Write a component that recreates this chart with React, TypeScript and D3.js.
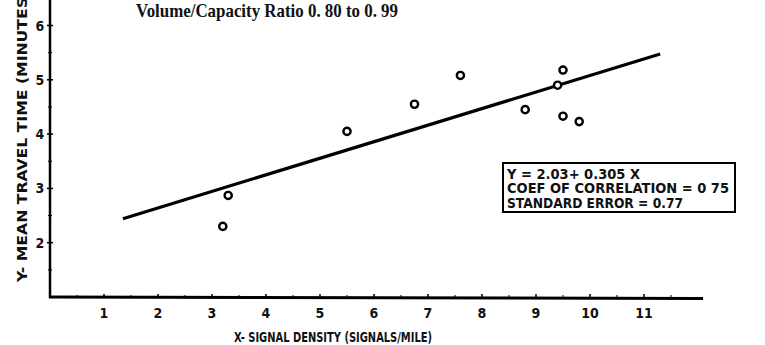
import React from 'react';
import * as d3 from 'd3';

// observed points
const signalDensity = [3.2, 3.3, 5.5, 6.75, 7.6, 8.8, 9.4, 9.5, 9.5, 9.8];
const travelTime = [2.3, 2.87, 4.05, 4.55, 5.08, 4.45, 4.9, 5.18, 4.33, 4.23];

// regression Y = a + bX
const intercept = 2.03;
const slope = 0.305;
const fitRange = [1.35, 11.3];

const xTicks = [1, 2, 3, 4, 5, 6, 7, 8, 9, 10, 11];
const yTicks = [2, 3, 4, 5, 6];
const statLines = ['Y = 2.03+ 0.305 X', 'COEF OF CORRELATION = 0 75', 'STANDARD  ERROR = 0.77'];

const W = 765;
const H = 345;
const labelFont = "'DejaVu Sans Condensed', 'Liberation Sans Narrow', 'DejaVu Sans', sans-serif";

export default function App() {
  const x = d3.scaleLinear().domain([0, 12]).range([50, 698]);
  const y = d3.scaleLinear().domain([1, 6]).range([297, 25.5]);

  const fit = d3.line<number>()
    .x(d => x(d))
    .y(d => y(intercept + slope * d));

  const minorY = d3.range(1.5, 6.5, 1);
  const minorX = d3.range(0.5, 12, 1);

  return (
    <svg width={W} height={H} style={{ position: 'absolute', left: 0, top: 0, background: '#fff' }}>
      {/* title */}
      <text x={136} y={17} textLength={262} lengthAdjust="spacingAndGlyphs"
        style={{ fontFamily: "'Liberation Serif', 'DejaVu Serif', serif", fontSize: 19.5, fontWeight: 'bold' }} fill="#111">
        Volume/Capacity Ratio 0. 80 to 0. 99
      </text>

      {/* axes */}
      <line x1={x(0)} y1={0} x2={x(0)} y2={y(1) + 1} stroke="#000" strokeWidth={2.5} />
      <line x1={x(0) - 1} y1={y(1)} x2={x(12) + 5} y2={y(1) + 1.5} stroke="#000" strokeWidth={3} />

      {yTicks.map(t => (
        <g key={`y-${t}`}>
          <line x1={x(0) - 3} x2={x(0) + 3} y1={y(t)} y2={y(t)} stroke="#000" strokeWidth={1.5} />
          <text x={40} y={y(t) + 5} textAnchor="middle" fill="#111"
            style={{ fontFamily: labelFont, fontSize: 14, fontWeight: 'bold' }}>{t}</text>
        </g>
      ))}
      {minorY.map(t => (
        <line key={`my-${t}`} x1={x(0) - 2} x2={x(0) + 2} y1={y(t)} y2={y(t)} stroke="#000" strokeWidth={1} />
      ))}

      {xTicks.map(t => (
        <g key={`x-${t}`}>
          <line x1={x(t)} x2={x(t)} y1={y(1) - 3} y2={y(1)} stroke="#000" strokeWidth={1.5} />
          <text x={x(t)} y={y(1) + 21} textAnchor="middle" fill="#111"
            style={{ fontFamily: labelFont, fontSize: 14, fontWeight: 'bold' }}>{t}</text>
        </g>
      ))}
      {minorX.map(t => (
        <line key={`mx-${t}`} x1={x(t)} x2={x(t)} y1={y(1) - 2} y2={y(1)} stroke="#000" strokeWidth={1} />
      ))}

      {/* axis titles */}
      <text x={234} y={342} textLength={198} lengthAdjust="spacingAndGlyphs" fill="#111"
        style={{ fontFamily: labelFont, fontSize: 14, fontWeight: 'bold' }}>
        X- SIGNAL  DENSITY (SIGNALS/MILE)
      </text>
      <text transform={`translate(27, 282) rotate(-90)`} textLength={340} lengthAdjust="spacingAndGlyphs" fill="#111"
        style={{ fontFamily: labelFont, fontSize: 14, fontWeight: 'bold' }}>
        Y- MEAN  TRAVEL  TIME  (MINUTES/MILE)
      </text>

      {/* regression line */}
      <path d={fit(fitRange) ?? ''} fill="none" stroke="#000" strokeWidth={3.2} />

      {/* points */}
      {signalDensity.map((sd, i) => (
        <circle key={i} cx={x(sd)} cy={y(travelTime[i])} r={3.6} fill="#fff" stroke="#000" strokeWidth={2.4} />
      ))}

      {/* stats box */}
      <rect x={503} y={163} width={232} height={49} fill="#fff" stroke="#000" strokeWidth={2} />
      {statLines.map((s, i) => (
        <text key={i} x={507} y={178.5 + i * 14.5} fill="#111"
          textLength={i === 0 ? 133 : i === 1 ? 222 : 176} lengthAdjust="spacingAndGlyphs"
          style={{ fontFamily: labelFont, fontSize: 13.5, fontWeight: 'bold' }}>{s}</text>
      ))}
    </svg>
  );
}
